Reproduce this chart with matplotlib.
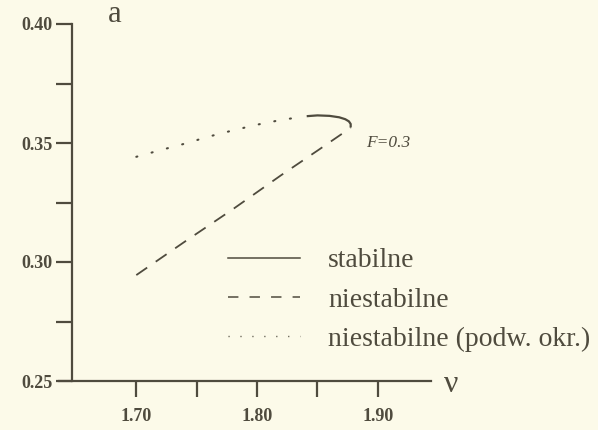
import matplotlib
matplotlib.use("Agg")
import matplotlib.pyplot as plt
from matplotlib.lines import Line2D

plt.rcParams['font.family'] = ['Liberation Serif', 'DejaVu Serif']
plt.rcParams['lines.scale_dashes'] = False

# data
nu_dotted = [1.700, 1.720, 1.740, 1.760, 1.780, 1.800, 1.820, 1.836]
a_dotted = [0.3442, 0.3470, 0.3497, 0.3527, 0.3553, 0.3577, 0.3597, 0.3609]

nu_solid = [1.842, 1.850, 1.860, 1.868, 1.873, 1.876, 1.8775, 1.8775]
a_solid = [0.3613, 0.3616, 0.3614, 0.3608, 0.3600, 0.3591, 0.3580, 0.3570]

nu_dashed = [1.700, 1.740, 1.780, 1.820, 1.850, 1.873, 1.8775]
a_dashed = [0.2945, 0.3085, 0.3222, 0.3365, 0.3468, 0.3548, 0.3565]

x_major = [1.70, 1.80, 1.90]
x_minor = [1.75, 1.85]
x_labels = ["1.70", "1.80", "1.90"]
y_major = [0.25, 0.30, 0.35, 0.40]
y_minor = [0.275, 0.325, 0.375]
y_labels = ["0.25", "0.30", "0.35", "0.40"]

legend_labels = ["stabilne", "niestabilne", "niestabilne (podw. okr.)"]
annot = "F=0.3"

bg = "#FCFAE9"
ink = "#4F4B3E"
W, H = 598, 430

fig = plt.figure(figsize=(W / 100, H / 100), dpi=100, facecolor=bg)
ax = fig.add_axes([59 / W, 1 - 381 / H, (431 - 59) / W, (381 - 24) / H])
ax.set_facecolor(bg)

ax.set_xlim(1.636, 1.944)
ax.set_ylim(0.25, 0.40)

ax.plot(nu_dotted, a_dotted, color=ink, lw=1.5, linestyle=(0, (0.8, 10.6)),
        solid_capstyle='round', dash_capstyle='round')
ax.plot(nu_solid, a_solid, color=ink, lw=1.6, linestyle='-')
ax.plot(nu_dashed, a_dashed, color=ink, lw=1.3, linestyle=(0, (9.5, 7.5)))

ax.text(1.890, 0.350, annot, fontstyle='italic', fontsize=12.5, color=ink,
        ha='left', va='center')

for s in ['top', 'right']:
    ax.spines[s].set_visible(False)
ax.spines['left'].set_position(('data', 1.647))
ax.spines['left'].set_bounds(0.25, 0.40)
for s in ['left', 'bottom']:
    ax.spines[s].set_color(ink)
    ax.spines[s].set_linewidth(1.6)

ax.set_xticks(x_major)
ax.set_xticklabels(x_labels)
ax.set_xticks(x_minor, minor=True)
ax.set_yticks(y_major)
ax.set_yticklabels(y_labels)
ax.set_yticks(y_minor, minor=True)
ax.tick_params(axis='both', which='both', direction='out', color=ink, width=1.6,
               length=11.5, labelcolor=ink, labelsize=13)
ax.tick_params(axis='x', which='major', pad=8)
ax.tick_params(axis='y', which='major', pad=3)
for lab in ax.get_xticklabels() + ax.get_yticklabels():
    lab.set_fontweight('bold')

fig.text(108 / W, 1 - 15 / H, "a", fontsize=22, color=ink, ha='left', va='center')
fig.text(444 / W, 1 - 385 / H, "ν", fontsize=23, color=ink, ha='left', va='center')

handles = [
    Line2D([], [], color=ink, lw=1.1, linestyle='-'),
    Line2D([], [], color=ink, lw=1.1, linestyle=(0, (7.5, 8.0))),
    Line2D([], [], color=ink, lw=1.0, linestyle=(0, (0.8, 7.8))),
]
leg = fig.legend(handles, legend_labels, loc='upper left',
                 bbox_to_anchor=(228 / W, 1 - 248 / H), frameon=False,
                 fontsize=20, handlelength=2.6, handletextpad=1.0,
                 labelspacing=0.5, borderaxespad=0, borderpad=0)
for t in leg.get_texts():
    t.set_color(ink)

fig.savefig("out.png", dpi=100, facecolor=bg)
